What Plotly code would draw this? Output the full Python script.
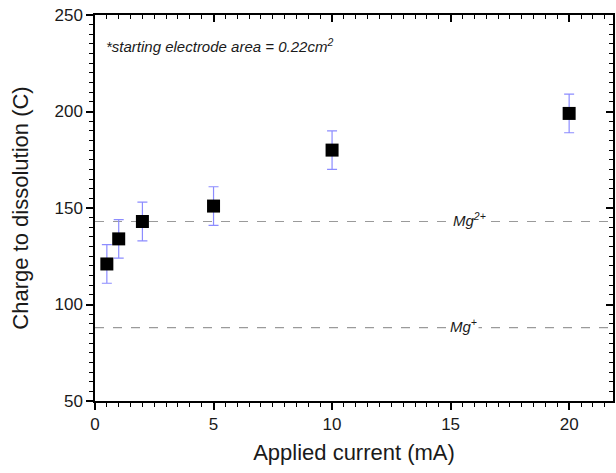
import plotly.graph_objects as go

# Dissolution charge versus applied current
current_mA = [0.5, 1, 2, 5, 10, 20]
charge_C = [121, 134, 143, 151, 180, 199]
charge_err = [10, 10, 10, 10, 10, 10]

# Theoretical charge levels for the two oxidation states
ref_levels = [143, 88]
ref_labels = ["<i>Mg<sup>2+</sup></i>", "<i>Mg<sup>+</sup></i>"]
ref_label_x = [15.8, 15.55]

x_range = [0, 21.85]
y_range = [50, 250]

FONT = "Liberation Sans, Arial, sans-serif"
TEXT = "#1a1a1a"

fig = go.Figure()

fig.add_trace(go.Scatter(
    x=current_mA, y=charge_C, mode="markers",
    marker=dict(symbol="square", size=13, color="black", line=dict(width=0)),
    error_y=dict(type="data", array=charge_err, visible=True,
                 color="#8c8cff", thickness=1.2, width=5),
    showlegend=False, hoverinfo="x+y",
))

# invisible helper trace so the mirrored top/right axes are drawn
fig.add_trace(go.Scatter(x=[None], y=[None], xaxis="x2", yaxis="y2",
                         showlegend=False, hoverinfo="skip"))

for lvl, lab, lx in zip(ref_levels, ref_labels, ref_label_x):
    fig.add_shape(type="line", xref="x domain", yref="y", x0=0, x1=1,
                  y0=lvl, y1=lvl, line=dict(color="#9a9a9a", width=1.2, dash="dash"),
                  layer="below")
    fig.add_annotation(x=lx, y=lvl, xref="x", yref="y", text=lab, showarrow=False,
                       font=dict(family=FONT, size=15, color=TEXT),
                       bgcolor="white", borderpad=1, yshift=2)

fig.add_annotation(x=0.018, y=0.921, xref="paper", yref="paper",
                   text="<i>*starting electrode area = 0.22cm<sup>2</sup></i>",
                   showarrow=False, xanchor="left", yanchor="middle",
                   font=dict(family=FONT, size=15, color=TEXT))

axis_common = dict(showgrid=False, zeroline=False, showline=True,
                   linecolor="black", linewidth=1.5, tickcolor="black",
                   tickwidth=1.6, ticklen=7)
minor_out = dict(ticks="outside", ticklen=4, tickcolor="black", tickwidth=1.4)
minor_in = dict(ticks="inside", ticklen=4, tickcolor="black", tickwidth=1.4)

fig.update_layout(
    width=616, height=473,
    margin=dict(l=95, r=3, t=15, b=72),
    paper_bgcolor="white", plot_bgcolor="white",
    font=dict(family=FONT, size=17, color=TEXT),
    xaxis=dict(range=x_range, tickmode="linear", tick0=0, dtick=5,
               ticks="outside", title=dict(text="Applied current (mA)",
                                           font=dict(size=22), standoff=11),
               minor=dict(tick0=0, dtick=0.5, **minor_out),
               **axis_common),
    yaxis=dict(range=y_range, tickmode="linear", tick0=50, dtick=50,
               ticks="outside", title=dict(text="Charge to dissolution (C)",
                                           font=dict(size=22), standoff=20),
               minor=dict(tick0=50, dtick=5, **minor_out),
               **axis_common),
    xaxis2=dict(range=x_range, overlaying="x", side="top",
                tickmode="linear", tick0=0, dtick=5, ticks="inside",
                showticklabels=False,
                minor=dict(tick0=0, dtick=0.5, **minor_in),
                **axis_common),
    yaxis2=dict(range=y_range, overlaying="y", side="right",
                tickmode="linear", tick0=50, dtick=50, ticks="inside",
                showticklabels=False,
                minor=dict(tick0=50, dtick=5, **minor_in),
                **axis_common),
)

fig.write_html("out.html")
